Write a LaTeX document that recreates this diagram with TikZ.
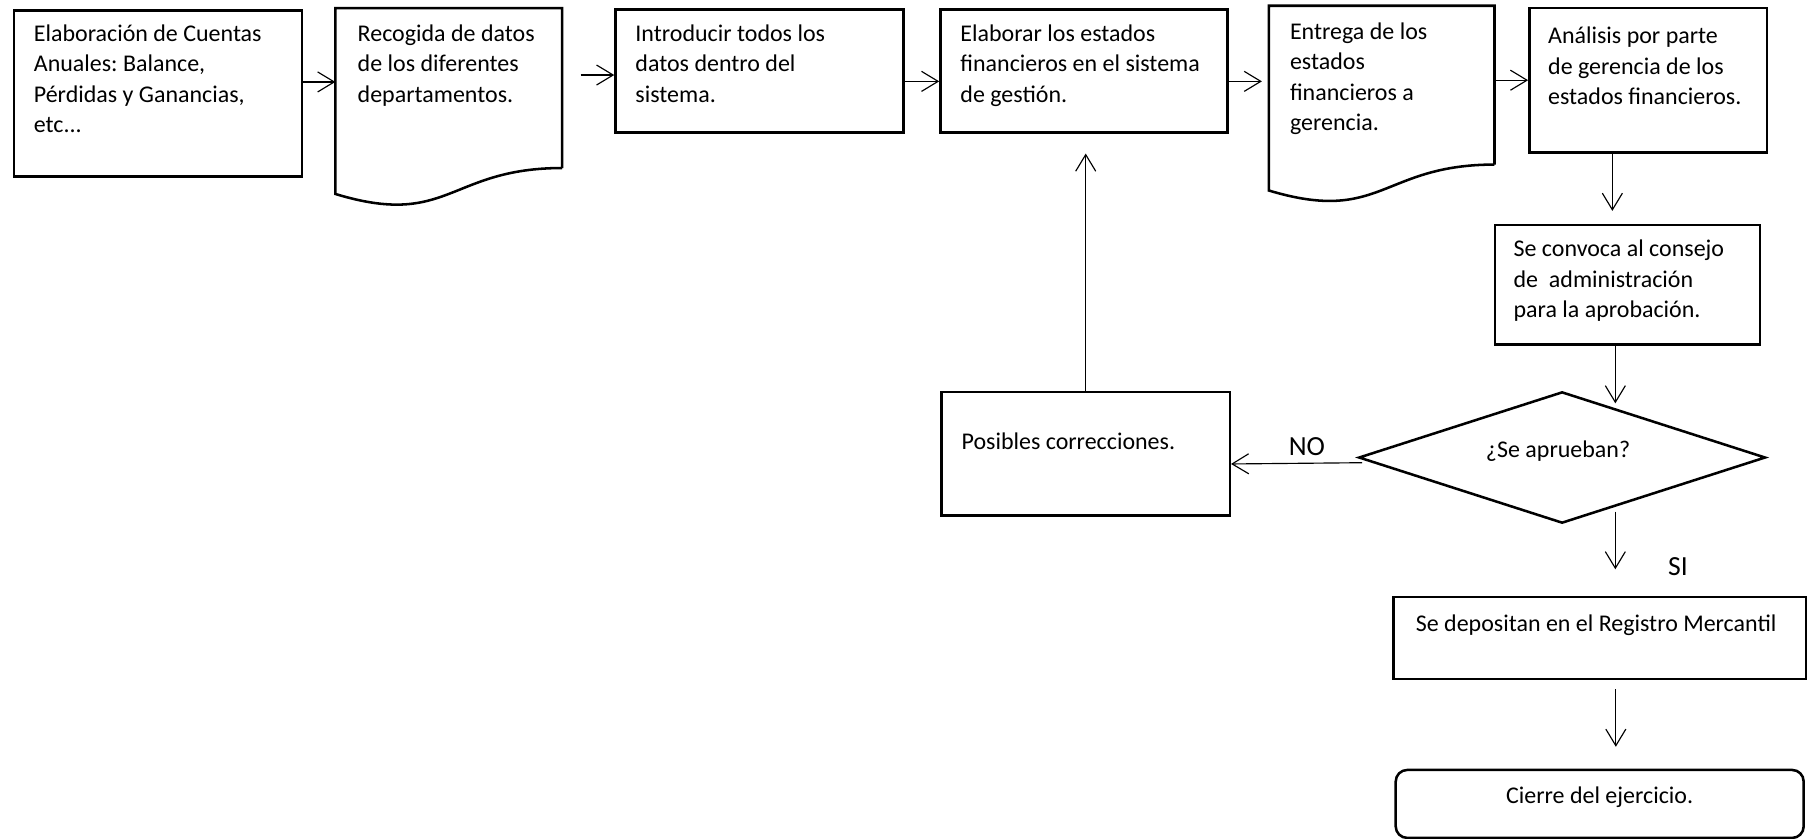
\documentclass[tikz,border=0pt]{standalone}
\usepackage{fontspec}
\setmainfont{Carlito}
\frenchspacing
\usetikzlibrary{arrows.meta,calc,shapes.geometric}

\tikzset{
  boxline/.style={draw=black, line width=1.1pt},
  box/.style={boxline, rectangle, anchor=north west, inner sep=0pt},
  frame/.style={rectangle, anchor=north west, inner sep=0pt},
  arr/.style={draw=black, line width=0.5pt, -{Straight Barb[length=7.2pt,width=8.7pt,line width=0.5pt]}},
  txt/.style={font=\fontsize{10.4}{13.2}\selectfont, anchor=base west, align=flush left,
              text width=200pt, inner sep=0pt},
  ctxt/.style={font=\fontsize{10.4}{13.2}\selectfont, anchor=base, inner sep=0pt},
  lbl/.style={font=\fontsize{12}{14}\selectfont, anchor=base, inner sep=0pt}
}

\begin{document}
\begin{tikzpicture}[x=0.5pt,y=-0.5pt]
\useasboundingbox[fill=white] (0,0) rectangle (1568,728);

% ---- top row ----
\node[box, minimum width=125pt, minimum height=72pt] (b1) at (11,8) {};
\node[txt] (t1) at (29,36) {Elaboración de Cuentas\\Anuales: Balance,\\Pérdidas y Ganancias,\\etc...};

\node[frame, minimum width=98pt, minimum height=69pt] (d2) at (291,7) {};
\draw[boxline] (d2.south east) -- (d2.north east) -- (d2.north west) -- ($(d2.south west)+(0,22.5)$)
  .. controls ($(d2.south)+(0,52.5)$) and (d2.south) .. (d2.south east);
\node[txt] (t2) at (310,36) {Recogida de datos\\de los diferentes\\departamentos.};

\node[box, minimum width=125pt, minimum height=53.5pt] (b3) at (533,7) {};
\node[txt] (t3) at (551,36) {Introducir todos los\\datos dentro del\\sistema.};

\node[box, minimum width=124.5pt, minimum height=53.5pt] (b4) at (815,7) {};
\node[txt] (t4) at (833,36) {Elaborar los estados\\financieros en el sistema\\de gestión.};

\node[frame, minimum width=97.5pt, minimum height=68.5pt] (d5) at (1101,5) {};
\draw[boxline] (d5.south east) -- (d5.north east) -- (d5.north west) -- ($(d5.south west)+(0,22.5)$)
  .. controls ($(d5.south)+(0,52)$) and (d5.south) .. (d5.south east);
\node[txt] (t5) at (1119,34) {Entrega de los\\estados\\financieros a\\gerencia.};

\node[box, minimum width=103pt, minimum height=62.5pt] (b6) at (1326,6) {};
\node[txt] (t6) at (1343,38) {Análisis por parte\\de gerencia de los\\estados financieros.};

% ---- right column ----
\node[box, minimum width=115pt, minimum height=52pt] (b7) at (1296,194) {};
\node[txt] (t7) at (1313,223) {Se convoca al consejo\\de\ \ administración\\para la aprobación.};

\node[diamond, boxline, minimum width=176.5pt, minimum height=57pt, inner sep=0pt] (dia) at (1355.5,397) {};
\node[ctxt] (tq) at (1352,397) {¿Se aprueban?};

\node[box, minimum width=125pt, minimum height=53.5pt] (b8) at (816,339) {};
\node[txt] (t8) at (834,390) {Posibles correcciones.};

\node[box, minimum width=179pt, minimum height=35.5pt] (b9) at (1208,517) {};
\node[ctxt] (t9) at (1385,548) {Se depositan en el Registro Mercantil};

\node[box, rounded corners=5pt, minimum width=177pt, minimum height=29.5pt] (b10) at (1210,667) {};
\node[ctxt] (t10) at (1388,697) {Cierre del ejercicio.};

% ---- branch labels ----
\node[lbl] (lno) at (1134,395) {NO};
\node[lbl] (lsi) at (1456,499) {SI};

% ---- connectors ----
\draw[arr] ([yshift=5pt]b1.east) -- ([yshift=5pt]b1.east -| d2.west);
\draw[arr] ($(d2.east |- b3.west)+(16,3.5)$) -- ([yshift=-1.75pt]b3.west);
\draw[arr] ([yshift=-4.5pt]b3.east) -- ([yshift=-4.5pt]b3.east -| b4.west);
\draw[arr] ([yshift=-4.5pt]b4.east) -- ($([yshift=-4.5pt]b4.east -| d5.west)+(-6,0)$);
\draw[arr] (b6.west -| d5.east) -- (b6.west);
\draw[arr] ([xshift=-15.5pt]b6.south) -- ($([xshift=-15.5pt]b6.south |- b7.north)+(0,-11)$);

\coordinate (in7) at ($(dia.north)!0.26!(dia.east)$);
\draw[arr] (in7 |- b7.south) -- ([yshift=2pt]in7);

\draw[arr] ([xshift=2pt,yshift=-2.25pt]dia.west) -- ([yshift=-4.5pt]b8.east);
\draw[arr] (b8.north) -- ($(b8.north |- b4.south)+(0,17)$);

\coordinate (out9) at ($(dia.south)!0.26!(dia.east)$);
\draw[arr] ([yshift=-2pt]out9) -- ($(out9 |- b9.north)+(0,-23)$);

\draw[arr] ([xshift=7pt,yshift=-4pt]b9.south) -- ([xshift=7pt,yshift=9.5pt]b10.north);
\end{tikzpicture}
\end{document}
